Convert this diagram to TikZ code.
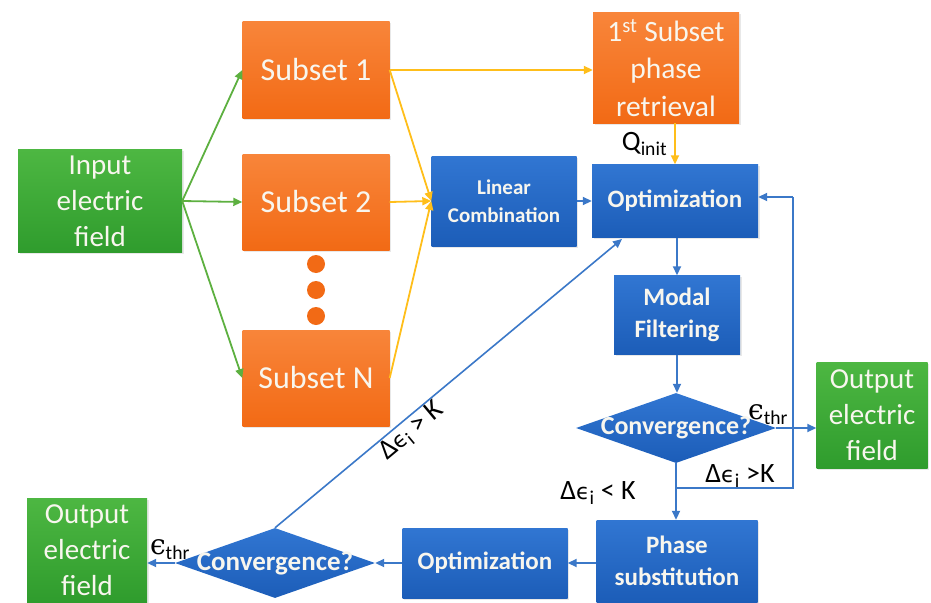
\documentclass[tikz,border=0pt]{standalone}
\usepackage{fontspec}
\setmainfont{Carlito}
\newfontfamily\epsfont{DejaVu Sans}
\newfontfamily\epsserif{DejaVu Serif}
\usetikzlibrary{arrows.meta,shapes.geometric,shadows}
\definecolor{orT}{HTML}{F8853A}
\definecolor{orB}{HTML}{F26A15}
\definecolor{blT}{HTML}{3176D2}
\definecolor{blB}{HTML}{1C5DB8}
\definecolor{grT}{HTML}{4DB742}
\definecolor{grB}{HTML}{2F9C2D}
\definecolor{yel}{HTML}{FFBE1A}
\definecolor{grn}{HTML}{5DB040}
\definecolor{bll}{HTML}{3B78C8}
\definecolor{txt}{HTML}{F8F6EE}
\newcommand{\deps}{Δ{\epsfont\fontsize{22}{24}\selectfont ϵ}\textsubscript{i}}
\newcommand{\ethr}{{\epsserif ϵ}$_{\mathrm{thr}}$}
\tikzset{
  soft/.style={drop shadow={opacity=0.18, shadow xshift=1.5pt, shadow yshift=-1.5pt}},
  orbox/.style={rectangle, soft, top color=orT, bottom color=orB, text=txt,
    align=center, inner sep=0pt, font=\fontsize{32}{38}\selectfont},
  blbox/.style={rectangle, soft, top color=blT, bottom color=blB, text=txt,
    align=center, inner sep=0pt, font=\bfseries\fontsize{25}{30}\selectfont},
  grbox/.style={rectangle, soft, top color=grT, bottom color=grB, text=txt,
    align=center, inner sep=0pt, font=\fontsize{29}{36}\selectfont},
  decision/.style={diamond, top color=blT, bottom color=blB,
    inner sep=0pt, minimum width=200pt, minimum height=70pt, aspect=2.86},
  dectext/.style={text=txt, font=\bfseries\fontsize{#1}{30}\selectfont},
  dotc/.style={circle, fill=orB, minimum size=18pt, inner sep=0pt},
  tip/.style={-{Triangle[length=9pt,width=8pt]}},
  yarr/.style={tip, draw=yel, line width=1.8pt},
  garr/.style={tip, draw=grn, line width=1.8pt},
  barr/.style={tip, draw=bll, line width=1.8pt},
  lbl/.style={font=\fontsize{28}{30}\selectfont, text=black, inner sep=1pt},
}
\begin{document}
\begin{tikzpicture}[x=1pt,y=-1pt]
\useasboundingbox (0,0) rectangle (931,602);

% input and subsets
\node[grbox, minimum width=164pt, minimum height=103pt] (in) at (100,201) {Input\\electric\\field};
\node[orbox, minimum width=147pt, minimum height=96pt] (s1) at (316,70) {Subset 1};
\node[orbox, minimum width=147pt, minimum height=96pt] (s2) at (316,202) {Subset 2};
\node[orbox, minimum width=147pt, minimum height=96pt] (sn) at (316,378) {Subset N};
\node[dotc] (d1) at (316,264) {};
\node[dotc] (d2) at (316,290) {};
\node[dotc] (d3) at (316,316) {};

% first subset branch
\node[orbox, minimum width=146pt, minimum height=110pt, font=\fontsize{29.5}{37.5}\selectfont] (fs) at (666,68) {1\textsuperscript{st} Subset\\phase\\retrieval};
\node[blbox, minimum width=145pt, minimum height=90pt, font=\bfseries\fontsize{21}{28}\selectfont] (lc) at (504,201) {Linear\\Combination};
\node[blbox, minimum width=166pt, minimum height=73pt] (opt) at (675,201) {Optimization};
\node[blbox, minimum width=126pt, minimum height=79pt, font=\bfseries\fontsize{25}{32}\selectfont] (mf) at (677,315) {Modal\\Filtering};
\node[decision, label={[dectext=26]center:Convergence?}] (cv1) at (676,428) {};
\node[grbox, minimum width=111pt, minimum height=106pt] (out1) at (872,415) {Output\\electric\\field};

% bottom row
\node[blbox, minimum width=161pt, minimum height=82pt, font=\bfseries\fontsize{25}{32}\selectfont] (ps) at (677,561) {Phase\\substitution};
\node[blbox, minimum width=165pt, minimum height=70pt] (opt2) at (485,563) {Optimization};
\node[decision, label={[dectext=27]center:Convergence?}] (cv2) at (275,563) {};
\node[grbox, minimum width=120pt, minimum height=104pt] (out2) at (87,550) {Output\\electric\\field};

% input fan-out
\coordinate (inr) at (in.east);
\draw[garr] (inr) -- (s1.west);
\draw[garr] (inr) -- (s2.west);
\draw[garr] (inr) -- (sn.west);

% subset fan-in
\coordinate (lcin) at (lc.west);
\draw[yarr] (s1.east) -- (fs.west |- s1.east);
\draw[yarr] (s1.east) -- (lcin);
\draw[yarr] (s2.east) -- (lcin);
\draw[yarr] (sn.east) -- (lcin);
\draw[yarr] (fs.south -| opt.north) -- node[lbl, left=6pt] {Q\textsubscript{init}} (opt.north);

% main loop
\draw[barr] (lc.east) -- (opt.west);
\draw[barr] (opt.south -| mf.north) -- (mf.north);
\draw[barr] (mf.south) -- (mf.south |- cv1.north);
\draw[barr] (cv1.east) -- (out1.west |- cv1.east);
\node[lbl, anchor=south] (e1) at (768,426) {\ethr};

\coordinate (j1) at (676,488);
\coordinate (j2) at (793,488);
\coordinate (j3) at (793,197);
\draw[barr] (cv1.south) -- (j1) -- (j1 |- ps.north);
\draw[bll, line width=1.8pt] (j1) -- (j2) -- (j3);
\draw[barr] (j3) -- (opt.east |- j3);
\node[lbl, anchor=south] (gt1) at (740,489) {\deps\ >K};
\node[lbl, anchor=south] (lt1) at (598,506) {\deps\ < K};

% bottom loop
\draw[barr] (ps.west |- opt2.east) -- (opt2.east);
\draw[barr] (opt2.west) -- (cv2.east);
\draw[barr] (cv2.west) -- (out2.east |- cv2.west);
\node[lbl, anchor=south] (e2) at (170,561) {\ethr};
\coordinate (optin) at (622,239);
\draw[barr, line width=1.6pt] (cv2.north) -- node[lbl, sloped, below, pos=0.37] {\deps\ > K} (optin);
\end{tikzpicture}
\end{document}
